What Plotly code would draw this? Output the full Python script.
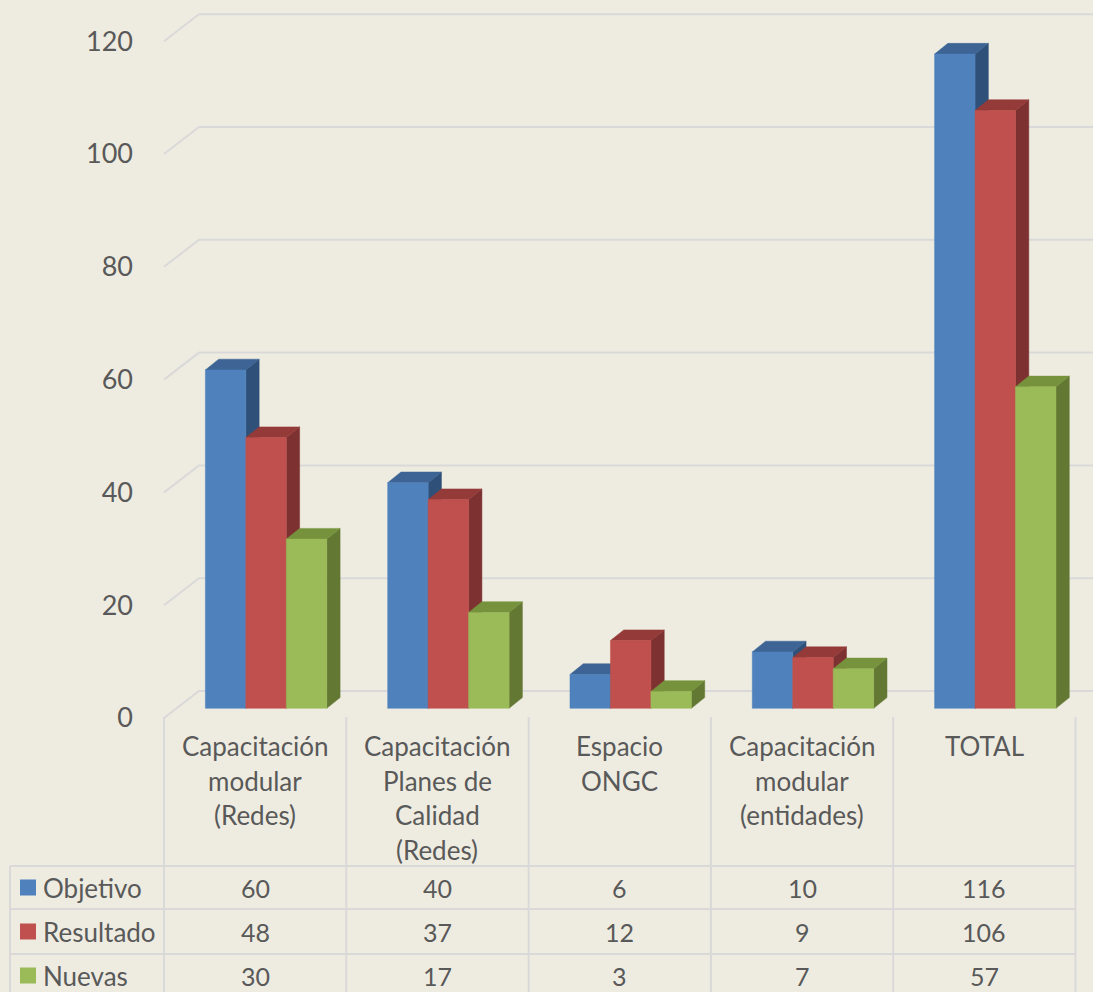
import plotly.graph_objects as go

# ---------------- data ----------------
categories = [
    "Capacitación<br>modular<br>(Redes)",
    "Capacitación<br>Planes de<br>Calidad<br>(Redes)",
    "Espacio<br>ONGC",
    "Capacitación<br>modular<br>(entidades)",
    "TOTAL",
]
series_names = ["Objetivo", "Resultado", "Nuevas"]
objetivo = [60, 40, 6, 10, 116]
resultado = [48, 37, 12, 9, 106]
nuevas = [30, 17, 3, 7, 57]
y_ticks = [0, 20, 40, 60, 80, 100, 120]

series_values = [objetivo, resultado, nuevas]

# ---------------- styles ----------------
BG = "#EEECE1"
TXT = "#595959"
GRID = "#D9D9D9"
FONT = "Lato"
front_cols = ["#4F81BD", "#C0504D", "#9BBB59"]
top_cols = ["#3D6494", "#943B39", "#76923C"]
side_cols = ["#2E5079", "#7D3130", "#637833"]

W_PX, H_PX = 1093, 992
L_MARGIN = 160
PX_PER_CAT = 182.3
PX_PER_UNIT = 5.64
Y0_PX = 718.0  # pixel of value 0 on the front floor edge

x_min = -0.5 - (164 - L_MARGIN) / PX_PER_CAT
x_max = x_min + (W_PX - L_MARGIN) / PX_PER_CAT
y_max = Y0_PX / PX_PER_UNIT
y_min = -(H_PX - Y0_PX) / PX_PER_UNIT

# oblique depth (floor) and bar geometry in data units
DX = 35 / PX_PER_CAT
DY = 27 / PX_PER_UNIT
OX = 0.06
OY = 9.7 / PX_PER_UNIT
BX = 13.3 / PX_PER_CAT
BY = 10.7 / PX_PER_UNIT
BW = 0.222


def ppx(p):
    """pixel row -> paper y"""
    return 1 - p / H_PX


def pxx(p):
    """pixel column -> paper x"""
    return (p - L_MARGIN) / (W_PX - L_MARGIN)


fig = go.Figure()

# gridlines (front diagonal + back wall)
for g in y_ticks:
    fig.add_trace(go.Scatter(
        x=[-0.5, -0.5 + DX, x_max], y=[g, g + DY, g + DY],
        mode="lines", line=dict(color=GRID, width=2),
        hoverinfo="skip", showlegend=False))

# bars as oblique boxes
n = len(categories)
for i in range(n):
    for k in range(3):
        v = series_values[k][i]
        xl = i - 1.5 * BW + k * BW + OX
        xr = xl + BW
        yb = OY
        yt = v + OY
        # side face
        fig.add_trace(go.Scatter(
            x=[xr, xr + BX, xr + BX, xr, xr], y=[yb, yb + BY, yt + BY, yt, yb],
            fill="toself", fillcolor=side_cols[k], mode="lines",
            line=dict(color=side_cols[k], width=0.5),
            hoverinfo="skip", showlegend=False))
        # top face
        fig.add_trace(go.Scatter(
            x=[xl, xl + BX, xr + BX, xr, xl], y=[yt, yt + BY, yt + BY, yt, yt],
            fill="toself", fillcolor=top_cols[k], mode="lines",
            line=dict(color=top_cols[k], width=0.5),
            hoverinfo="skip", showlegend=False))
        # front face
        fig.add_trace(go.Scatter(
            x=[xl, xl, xr, xr, xl], y=[yb, yt, yt, yb, yb],
            fill="toself", fillcolor=front_cols[k], mode="lines",
            line=dict(color=front_cols[k], width=0.5),
            name=series_names[k], text=[v] * 5,
            hovertemplate=series_names[k] + ": %{text}<extra></extra>",
            showlegend=False))

shapes = []
annotations = []

# data table grid
table_top = 717
row_tops = [866, 909, 954]
row_bottom = 999
for j in range(n + 1):
    shapes.append(dict(type="line", xref="x", yref="paper",
                       x0=-0.5 + j, x1=-0.5 + j, y0=ppx(table_top), y1=ppx(row_bottom),
                       line=dict(color=GRID, width=2)))
shapes.append(dict(type="line", xref="paper", yref="paper",
                   x0=pxx(10), x1=pxx(10), y0=ppx(row_tops[0]), y1=ppx(row_bottom),
                   line=dict(color=GRID, width=2)))
for r in row_tops:
    shapes.append(dict(type="line", xref="paper", yref="paper",
                       x0=pxx(10), x1=pxx(164 + PX_PER_CAT * n), y0=ppx(r), y1=ppx(r),
                       line=dict(color=GRID, width=2)))

# category labels
for i, cat in enumerate(categories):
    for li, line in enumerate(cat.split("<br>")):
        annotations.append(dict(x=i, y=ppx(746 + 34.6 * li), xref="x", yref="paper",
                                text=line, showarrow=False, xanchor="center", yanchor="middle",
                                font=dict(family=FONT, size=26, color=TXT)))

# table rows
row_centers = [887.5, 931.5, 975.5]
for k in range(3):
    yc = row_centers[k]
    shapes.append(dict(type="rect", xref="paper", yref="paper",
                       x0=pxx(20), x1=pxx(36), y0=ppx(yc - 8), y1=ppx(yc + 8),
                       fillcolor=front_cols[k], line=dict(width=0)))
    annotations.append(dict(x=pxx(41), y=ppx(yc), xref="paper", yref="paper",
                            text=series_names[k], showarrow=False, xanchor="left", yanchor="middle",
                            font=dict(family=FONT, size=26, color=TXT)))
    for i in range(n):
        annotations.append(dict(x=i, y=ppx(yc), xref="x", yref="paper",
                                text=str(series_values[k][i]), showarrow=False,
                                xanchor="center", yanchor="middle",
                                font=dict(family=FONT, size=25, color=TXT)))

fig.update_layout(
    width=W_PX, height=H_PX,
    margin=dict(l=L_MARGIN, r=0, t=0, b=0),
    paper_bgcolor=BG, plot_bgcolor=BG,
    shapes=shapes, annotations=annotations,
    showlegend=False,
    xaxis=dict(range=[x_min, x_max], visible=False, fixedrange=True),
    yaxis=dict(range=[y_min, y_max], tickvals=y_ticks, ticktext=[str(t) for t in y_ticks],
               showgrid=False, zeroline=False, showline=False, ticks="",
               ticklabelstandoff=26,
               tickfont=dict(family=FONT, size=27, color=TXT), fixedrange=True),
)

fig.write_html("out.html", config={"displayModeBar": False},
               post_script="document.body.style.margin='0';document.body.style.background='" + BG + "';")
